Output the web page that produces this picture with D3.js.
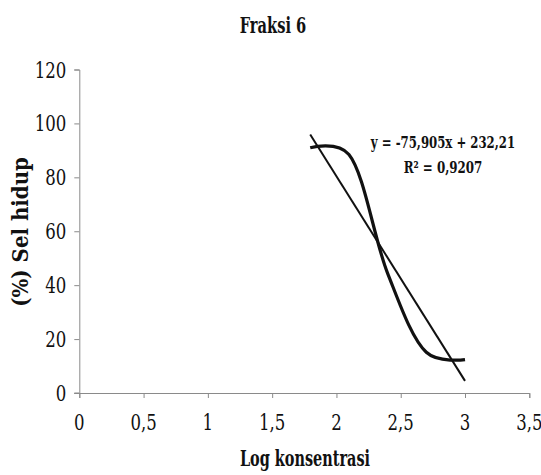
<!DOCTYPE html>
<html>
<head>
<meta charset="utf-8">
<script src="https://cdn.jsdelivr.net/npm/d3@7"></script>
<style>
  body { margin: 0; background: #fff; }
  svg text { font-family: 'DejaVu Serif Condensed', 'DejaVu Serif', 'Liberation Serif', serif; }
</style>
</head>
<body>
<div class="chart"></div>
<script>
// データ (log konsentrasi vs % sel hidup)
const logKonsentrasi = [1.796, 2.097, 2.398, 2.699, 3.0];
const selHidup = [91, 88.5, 44.4, 15.1, 12.4];
const xTicks = [0, 0.5, 1, 1.5, 2, 2.5, 3, 3.5];
const yTicks = [0, 20, 40, 60, 80, 100, 120];
const slope = -75.905, intercept = 232.21;
const eqLines = ["y = -75,905x + 232,21", "R\u00b2 = 0,9207"];

const W = 541, H = 475;
const margin = { top: 69.5, right: 11.7, bottom: 82, left: 79.3 };
const width = W - margin.left - margin.right;
const height = H - margin.top - margin.bottom;

const svg = d3.select(".chart").append("svg")
    .attr("width", W).attr("height", H);

const g = svg.append("g").attr("transform", `translate(${margin.left},${margin.top})`);

const x = d3.scaleLinear().domain([0, 3.5]).range([0, width]);
const y = d3.scaleLinear().domain([0, 120]).range([height, 0]);

const comma = d => String(d).replace(".", ",");

// 細いフォントの代わりに横方向を縮める
function narrowText(parent, tx, ty, str, size, weight, sx, anchor) {
    return parent.append("text")
        .attr("transform", `translate(${tx},${ty}) scale(${sx},1)`)
        .attr("text-anchor", anchor || "middle")
        .attr("fill", "#111")
        .attr("font-size", size)
        .attr("font-weight", weight)
        .text(str);
}

// 軸
const axisColor = "#8a8a8a";
const yAxis = g.append("g").call(d3.axisLeft(y).tickValues(yTicks).tickSize(5).tickFormat(""));
const xAxis = g.append("g").attr("transform", `translate(0,${height})`)
    .call(d3.axisBottom(x).tickValues(xTicks).tickSize(5).tickFormat(""));
[xAxis, yAxis].forEach(a => {
    a.select(".domain").attr("stroke", axisColor);
    a.selectAll(".tick line").attr("stroke", axisColor);
});
g.append("line").attr("x1", -5).attr("x2", 0).attr("y1", height).attr("y2", height).attr("stroke", axisColor);

yTicks.forEach(v => narrowText(g, -13, y(v) + 8, v, 23, "normal", 0.8, "end"));
xTicks.forEach(v => narrowText(g, x(v), height + 37, comma(v), 23, "normal", 0.8));

// タイトルとラベル
narrowText(svg, 273, 33, "Fraksi 6", 22, "bold", 0.74);
narrowText(svg, 305, 466, "Log konsentrasi", 22, "bold", 0.73);
svg.append("text")
    .attr("transform", `translate(28,232) rotate(-90)`)
    .attr("text-anchor", "middle")
    .attr("fill", "#111")
    .attr("font-size", 22).attr("font-weight", "bold")
    .text("(%) Sel hidup");

// 平滑曲線
const pts = logKonsentrasi.map((d, i) => [d, selHidup[i]]);
g.append("path")
    .datum(pts)
    .attr("fill", "none").attr("stroke", "#111").attr("stroke-width", 3.2)
    .attr("d", d3.line().x(d => x(d[0])).y(d => y(d[1])).curve(d3.curveCatmullRom.alpha(0.25)));

// 近似直線
const x0 = d3.min(logKonsentrasi), x1 = d3.max(logKonsentrasi);
g.append("line")
    .attr("x1", x(x0)).attr("y1", y(slope * x0 + intercept))
    .attr("x2", x(x1)).attr("y2", y(slope * x1 + intercept))
    .attr("stroke", "#111").attr("stroke-width", 2);

// 式
narrowText(svg, 443, 148, eqLines[0], 16.5, "bold", 0.79);
narrowText(svg, 443, 173, eqLines[1], 16.5, "bold", 0.8);
</script>
</body>
</html>
